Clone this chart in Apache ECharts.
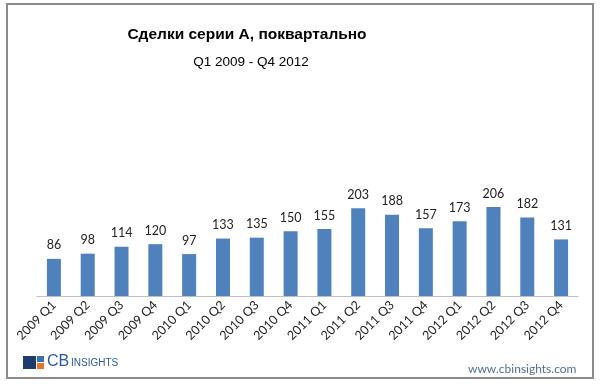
<!DOCTYPE html>
<html><head><meta charset="utf-8">
<script src="https://cdn.jsdelivr.net/npm/echarts@6/dist/echarts.min.js"></script>
<style>html,body{margin:0;padding:0;background:#fff}#c{width:600px;height:384px}</style>
</head><body><div id="c"></div>
<script>
const categories = ['2009 Q1','2009 Q2','2009 Q3','2009 Q4','2010 Q1','2010 Q2','2010 Q3','2010 Q4','2011 Q1','2011 Q2','2011 Q3','2011 Q4','2012 Q1','2012 Q2','2012 Q3','2012 Q4'];
const deals = [86,98,114,120,97,133,135,150,155,203,188,157,173,206,182,131];
const titleText = 'Сделки серии А, поквартально';
const subtitleText = 'Q1 2009 - Q4 2012';

const chart = echarts.init(document.getElementById('c'), null, {renderer:'canvas'});
chart.setOption({
  animation:false,
  backgroundColor:'#fff',
  title:[
    {text:titleText, left:242, top:22, textAlign:'center',
     textStyle:{fontFamily:'Liberation Sans, Arial', fontSize:15.5, fontWeight:'bold', color:'#000'}},
    {text:subtitleText, left:246, top:50, textAlign:'center',
     textStyle:{fontFamily:'Liberation Sans, Arial', fontSize:13.5, fontWeight:'normal', color:'#000'}}
  ],
  grid:{left:37, right:22, top:188, bottom:88, containLabel:false},
  xAxis:{type:'category', data:categories,
    axisLine:{show:true, lineStyle:{color:'#bfbfbf', width:1}},
    axisTick:{show:false},
    axisLabel:{rotate:45, interval:0, margin:7, fontFamily:'Lato, Open Sans, sans-serif', fontSize:12.5, color:'#222'}},
  yAxis:{type:'value', min:0, max:250, show:false, splitLine:{show:false}},
  series:[{type:'bar', data:deals, barWidth:14,
    itemStyle:{color:'#4F81BD'},
    label:{show:true, position:'top', distance:7, fontFamily:'Lato, Open Sans, sans-serif', fontSize:12.5, color:'#222'}}],
  graphic:[
    {type:'rect', shape:{x:7, y:4, width:586, height:374}, style:{fill:'none', stroke:'#8a8a8a', lineWidth:2}, silent:true},
    {type:'rect', shape:{x:23, y:356, width:13, height:13}, style:{fill:'#1f3b6e'}},
    {type:'rect', shape:{x:37, y:356, width:7, height:6}, style:{fill:'#3d6fb5'}},
    {type:'rect', shape:{x:37, y:363, width:7, height:6}, style:{fill:'#e8742a'}},
    {type:'text', left:47, top:354, style:{text:'CB', font:'16px Liberation Sans, Arial', fill:'#2c5a96'}},
    {type:'text', left:71, top:358, style:{text:'INSIGHTS', font:'10px Liberation Sans, Arial', fill:'#2c5a96'}},
    {type:'text', left:468, top:363, style:{text:'www.cbinsights.com', font:'12px Lato, Open Sans, sans-serif', fill:'#4f6f8f'}}
  ]
});
</script></body></html>
